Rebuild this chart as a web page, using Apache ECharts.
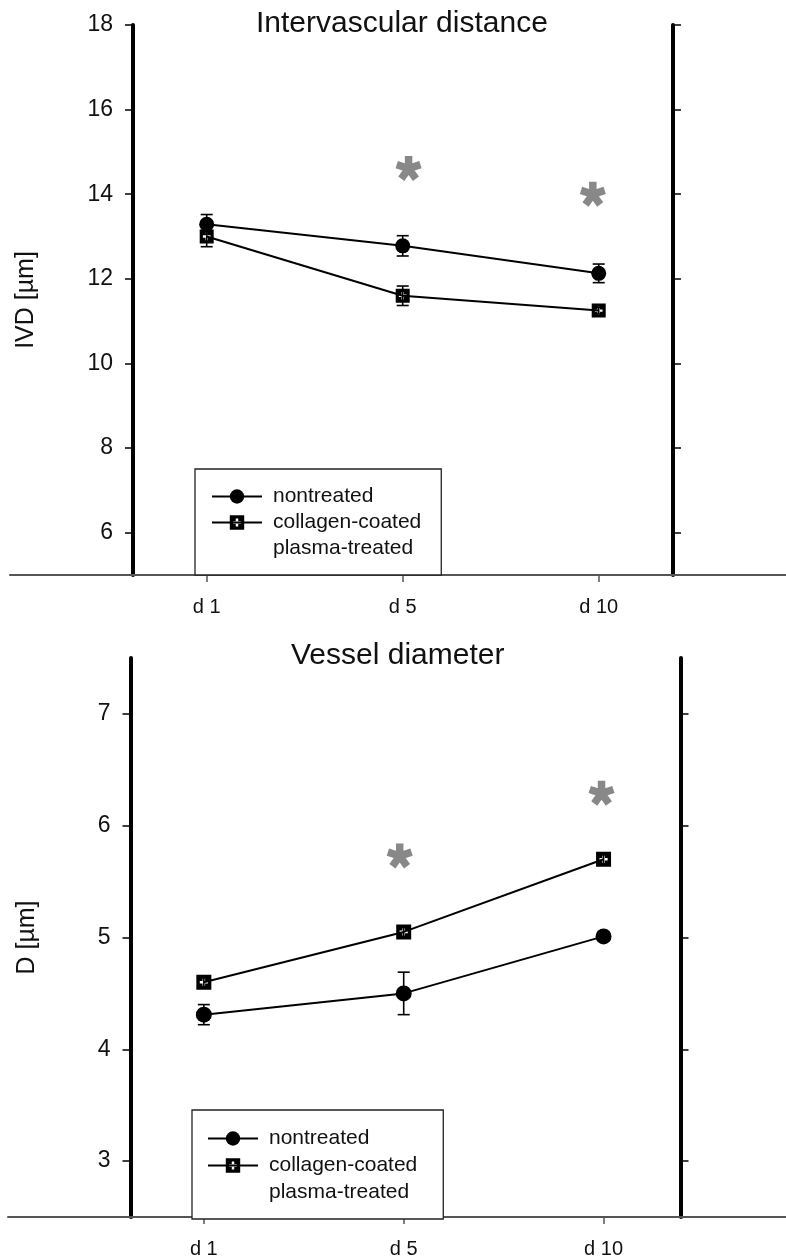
<!DOCTYPE html>
<html>
<head>
<meta charset="utf-8">
<script src="https://cdn.jsdelivr.net/npm/echarts@6/dist/echarts.min.js"></script>
<style>
  html, body { margin: 0; padding: 0; background: #fff; }
  #chart { width: 786px; height: 1260px; }
</style>
</head>
<body>
<div id="chart"></div>
<script>
// x positions are category indexes 0..2
const days = ['d 1', 'd 5', 'd 10'];

// Intervascular distance (IVD, µm)
const ivdNontreated = [13.29, 12.78, 12.13];
const ivdNontreatedErr = [0.23, 0.24, 0.22];
const ivdCollagen = [13.0, 11.6, 11.25];
const ivdCollagenErr = [0.24, 0.23, 0.08];
const ivdStars = [[1.03, 14.61], [1.97, 14.0]];
const ivdTicks = [6, 8, 10, 12, 14, 16, 18];

// Vessel diameter (D, µm)
const diaNontreated = [4.31, 4.50, 5.01];
const diaNontreatedErr = [0.09, 0.19, 0.04];
const diaCollagen = [4.60, 5.05, 5.70];
const diaCollagenErr = [0.04, 0.04, 0.04];
const diaStars = [[0.98, 5.73], [1.99, 6.29]];
const diaTicks = [3, 4, 5, 6, 7];

const FONT = '"Liberation Sans", Arial, sans-serif';

// black square with a white plus cut out of it
const squarePlus = 'path://M0,0L14,0L14,14L0,14Z ' +
  'M5.8,3.2L5.8,5.8L3.2,5.8L3.2,8.2L5.8,8.2L5.8,10.8L8.2,10.8L8.2,8.2L10.8,8.2L10.8,5.8L8.2,5.8L8.2,3.2Z';
// five arm asterisk
const asterisk = 'path://M3,1.5L3,-10L-3,-10L-3,1.5Z' +
  'M-0.5,3.317L10.437,-0.237L8.583,-5.943L-2.354,-2.389Z' +
  'M-3.309,0.55L3.453,9.854L8.307,6.326L1.545,-2.978Z' +
  'M-1.545,-2.978L-8.307,6.326L-3.453,9.854L3.309,0.55Z' +
  'M2.354,-2.389L-8.583,-5.943L-10.437,-0.237L0.5,3.317Z';

const pts = (vals) => vals.map((v, i) => [i, v]);
const errPts = (vals, errs) => vals.map((v, i) => [i, v, errs[i]]);

const renderErr = (params, api) => {
  const i = api.value(0), v = api.value(1), e = api.value(2);
  const hi = api.coord([i, v + e]);
  const lo = api.coord([i, v - e]);
  const w = 6;
  const st = { stroke: '#000', lineWidth: 1.6 };
  return {
    type: 'group',
    children: [
      { type: 'line', shape: { x1: hi[0], y1: hi[1], x2: lo[0], y2: lo[1] }, style: st },
      { type: 'line', shape: { x1: hi[0] - w, y1: hi[1], x2: hi[0] + w, y2: hi[1] }, style: st },
      { type: 'line', shape: { x1: lo[0] - w, y1: lo[1], x2: lo[0] + w, y2: lo[1] }, style: st }
    ]
  };
};

const mainX = (idx, min, max) => ({
  type: 'value',
  gridIndex: idx,
  min: min,
  max: max,
  axisLine: { show: false, onZero: false },
  splitLine: { show: false },
  axisTick: { show: true, customValues: [0, 1, 2], length: 7, lineStyle: { color: '#555', width: 1.5 } },
  axisLabel: {
    customValues: [0, 1, 2],
    formatter: (v) => days[Math.round(v)],
    margin: 22,
    fontSize: 20,
    color: '#111',
    fontFamily: FONT
  }
});

const lineX = (idx) => ({
  type: 'value',
  gridIndex: idx,
  min: 0,
  max: 1,
  axisLine: { show: true, onZero: false, lineStyle: { color: '#555', width: 2 } },
  axisTick: { show: false },
  axisLabel: { show: false },
  splitLine: { show: false }
});

const sideY = (idx, pos, min, max, ticks, name, gap) => ({
  type: 'value',
  gridIndex: idx,
  position: pos,
  min: min,
  max: max,
  name: name,
  nameLocation: 'middle',
  nameGap: gap,
  nameTextStyle: { fontSize: 25, color: '#111', fontFamily: FONT },
  axisLine: { show: true, onZero: false, lineStyle: { color: '#000', width: 4 } },
  axisTick: { show: true, customValues: ticks, length: 8, lineStyle: { color: '#000', width: 1.5 } },
  axisLabel: {
    show: pos === 'left',
    customValues: ticks,
    margin: 20,
    fontSize: 23,
    color: '#111',
    fontFamily: FONT
  },
  splitLine: { show: false }
});

const hiddenY = (idx) => ({ type: 'value', gridIndex: idx, show: false, min: 0, max: 1 });

const panelSeries = (xi, yi, nonVals, nonErr, colVals, colErr, stars, circleSize, squareSize) => [
  {
    type: 'custom', xAxisIndex: xi, yAxisIndex: yi,
    renderItem: renderErr, data: errPts(nonVals, nonErr), encode: { x: 0, y: 1 }, z: 2
  },
  {
    type: 'custom', xAxisIndex: xi, yAxisIndex: yi,
    renderItem: renderErr, data: errPts(colVals, colErr), encode: { x: 0, y: 1 }, z: 2
  },
  {
    name: 'nontreated', type: 'line', xAxisIndex: xi, yAxisIndex: yi,
    data: pts(nonVals), symbol: 'circle', symbolSize: circleSize, showAllSymbol: true,
    itemStyle: { color: '#000' }, lineStyle: { color: '#000', width: 2 }, z: 3
  },
  {
    name: 'collagen-coated', type: 'line', xAxisIndex: xi, yAxisIndex: yi,
    data: pts(colVals), symbol: squarePlus, symbolSize: squareSize, showAllSymbol: true,
    itemStyle: { color: '#000' }, lineStyle: { color: '#000', width: 2 }, z: 4
  },
  {
    type: 'scatter', xAxisIndex: xi, yAxisIndex: yi,
    data: stars, symbol: asterisk, symbolSize: [26, 25],
    itemStyle: { color: '#6a6a6a' }, z: 3
  }
];

const legendFor = (left, top, pad, gap) => ({
  orient: 'vertical',
  left: left,
  top: top,
  padding: pad,
  itemWidth: 50,
  itemHeight: 18,
  itemGap: gap,
  borderColor: '#222',
  borderWidth: 1.3,
  backgroundColor: '#fff',
  selectedMode: false,
  textStyle: { fontSize: 21, color: '#111', fontFamily: FONT, padding: [0, 0, 0, 6] },
  data: [
    { name: 'nontreated' },
    { name: 'collagen-coated' },
    { name: 'plasma-treated', icon: 'rect', itemStyle: { opacity: 0 } }
  ]
});

const chart = echarts.init(document.getElementById('chart'), null, { renderer: 'canvas' });

chart.setOption({
  animation: false,
  backgroundColor: '#fff',
  title: [
    {
      text: 'Intervascular distance', left: 256, top: 9, padding: 0,
      textStyle: { fontSize: 30, fontWeight: 'normal', color: '#111', fontFamily: FONT }
    },
    {
      text: 'Vessel diameter', left: 291, top: 641, padding: 0,
      textStyle: { fontSize: 30, fontWeight: 'normal', color: '#111', fontFamily: FONT }
    }
  ],
  legend: [
    legendFor(195, 469, [17, 20, 16, 16], 5),
    legendFor(192, 1110, [18, 26, 16, 15], 6)
  ],
  grid: [
    { left: 133, top: 25, width: 540, height: 550 },
    { left: 10, right: 0, top: 25, height: 550 },
    { left: 130.5, top: 658, width: 550, height: 559 },
    { left: 8, right: 0, top: 658, height: 559 }
  ],
  xAxis: [
    mainX(0, -0.376, 2.379),
    lineX(1),
    mainX(2, -0.367, 2.385),
    lineX(3)
  ],
  yAxis: [
    sideY(0, 'left', 5, 18, ivdTicks, 'IVD [µm]', 94),
    sideY(0, 'right', 5, 18, ivdTicks, '', 0),
    hiddenY(1),
    sideY(2, 'left', 2.5, 7.5, diaTicks, 'D [µm]', 91),
    sideY(2, 'right', 2.5, 7.5, diaTicks, '', 0),
    hiddenY(3)
  ],
  series: [
    ...panelSeries(0, 0, ivdNontreated, ivdNontreatedErr, ivdCollagen, ivdCollagenErr, ivdStars, 15, 14),
    ...panelSeries(2, 3, diaNontreated, diaNontreatedErr, diaCollagen, diaCollagenErr, diaStars, 16, 15),
    {
      name: 'plasma-treated', type: 'line', xAxisIndex: 0, yAxisIndex: 0,
      data: [], symbol: 'none', lineStyle: { opacity: 0 }
    }
  ]
});
</script>
</body>
</html>
